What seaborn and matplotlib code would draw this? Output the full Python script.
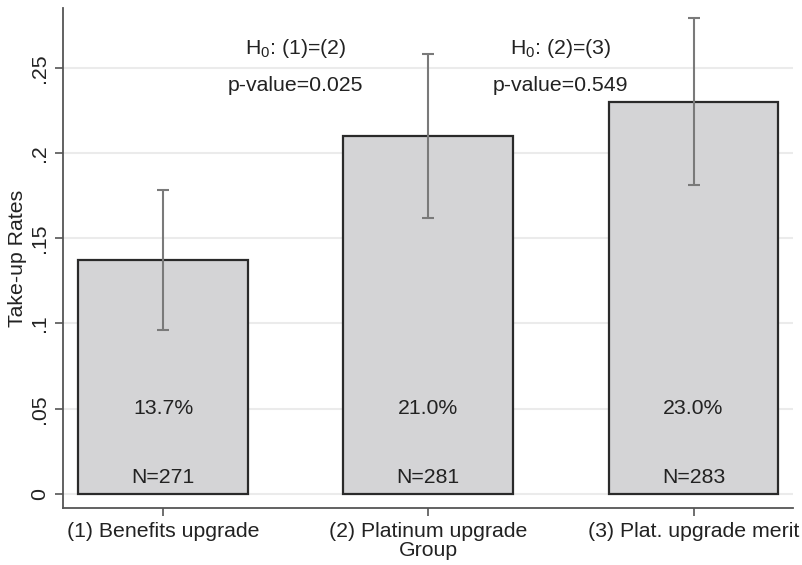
import numpy as np
import pandas as pd
import matplotlib
matplotlib.use("Agg")
import matplotlib.pyplot as plt
import seaborn as sns

# Take-up rates by treatment group with 95% confidence intervals
groups = ["(1) Benefits upgrade", "(2) Platinum upgrade", "(3) Plat. upgrade merit"]
rates = [0.137, 0.210, 0.230]
ci_low = [0.096, 0.162, 0.181]
ci_high = [0.178, 0.258, 0.279]
rate_labels = ["13.7%", "21.0%", "23.0%"]
sample_sizes = [271, 281, 283]

# Pairwise tests between adjacent groups
test_labels = ["H$_\\mathrm{0}$: (1)=(2)", "H$_\\mathrm{0}$: (2)=(3)"]
p_values = ["0.025", "0.549"]

y_ticks = [0, 0.05, 0.10, 0.15, 0.20, 0.25]
y_tick_labels = ["0", ".05", ".1", ".15", ".2", ".25"]

sns.set_style("white")
plt.rcParams["font.family"] = ["Liberation Sans", "DejaVu Sans"]
plt.rcParams["mathtext.fontset"] = "custom"
plt.rcParams["mathtext.rm"] = "Liberation Sans"
plt.rcParams["mathtext.it"] = "Liberation Sans:italic"

text_color = "#222222"
fs = 15.3

df = pd.DataFrame({"Group": groups, "Rate": rates})

fig = plt.figure(figsize=(8.02, 5.65), dpi=100)
ax = fig.add_axes([0.0786, 0.1009, 0.9102, 0.8849])

sns.barplot(data=df, x="Group", y="Rate", order=groups, color="#d4d4d6",
            saturation=1, width=0.64, edgecolor="#2a2a2a", linewidth=1.6,
            errorbar=None, ax=ax, zorder=2)

pos = np.arange(len(groups))
r = np.array(rates)
ax.errorbar(pos, r, yerr=[r - np.array(ci_low), np.array(ci_high) - r],
            fmt="none", ecolor="#7a7a7a", elinewidth=1.5, capsize=4,
            capthick=1.5, zorder=3)

for i in range(len(groups)):
    ax.text(pos[i], 0.05, rate_labels[i], ha="center", va="center",
            fontsize=fs, color=text_color, zorder=4)
    ax.text(pos[i], 0.0095, f"N={sample_sizes[i]}", ha="center", va="center",
            fontsize=fs, color=text_color, zorder=4)

for j in range(len(test_labels)):
    xm = j + 0.5
    ax.text(xm, 0.2615, test_labels[j], ha="center", va="center",
            fontsize=fs, color=text_color, zorder=4)
    ax.text(xm, 0.2395, f"p-value={p_values[j]}", ha="center", va="center",
            fontsize=fs, color=text_color, zorder=4)

ax.set_xlim(-0.377, 2.375)
ax.set_ylim(-0.0082, 0.285)

ax.set_yticks(y_ticks)
ax.set_yticklabels(y_tick_labels, rotation=90, va="center")
ax.yaxis.grid(True, color="#ebebeb", linewidth=1.5, zorder=0)
ax.set_axisbelow(True)

ax.tick_params(axis="both", which="major", direction="out", length=6,
               width=1.2, color="#555555", labelsize=fs, labelcolor=text_color,
               left=True, bottom=True, pad=4)

ax.set_ylabel("Take-up Rates", fontsize=fs, color=text_color)
ax.yaxis.set_label_coords(-0.05, 0.5)
ax.set_xlabel("Group", fontsize=fs, color=text_color, labelpad=0)

for side in ["top", "right"]:
    ax.spines[side].set_visible(False)
for side in ["left", "bottom"]:
    ax.spines[side].set_color("#555555")
    ax.spines[side].set_linewidth(1.3)

fig.savefig("out.png", dpi=100)
